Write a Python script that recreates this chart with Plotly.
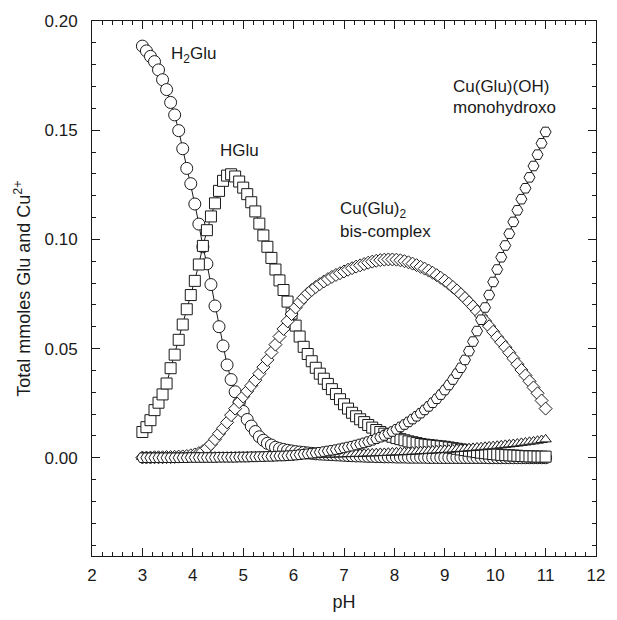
import plotly.graph_objects as go

# pH grid (x values)
ph = [3.00, 3.08, 3.16, 3.24, 3.32, 3.40, 3.48, 3.56, 3.64, 3.72,
      3.80, 3.88, 3.96, 4.04, 4.12, 4.20, 4.28, 4.36, 4.44, 4.52,
      4.60, 4.68, 4.76, 4.84, 4.92, 5.00, 5.08, 5.16, 5.24, 5.32,
      5.40, 5.48, 5.56, 5.64, 5.72, 5.80, 5.88, 5.96, 6.04, 6.12,
      6.20, 6.28, 6.36, 6.44, 6.52, 6.60, 6.68, 6.76, 6.84, 6.92,
      7.00, 7.08, 7.16, 7.24, 7.32, 7.40, 7.48, 7.56, 7.64, 7.72,
      7.80, 7.88, 7.96, 8.04, 8.12, 8.20, 8.28, 8.36, 8.44, 8.52,
      8.60, 8.68, 8.76, 8.84, 8.92, 9.00, 9.08, 9.16, 9.24, 9.32,
      9.40, 9.48, 9.56, 9.64, 9.72, 9.80, 9.88, 9.96, 10.04, 10.12,
      10.20, 10.28, 10.36, 10.44, 10.52, 10.60, 10.68, 10.76, 10.84, 10.92,
      11.00]

h2glu = [0.1885, 0.1863, 0.1838, 0.1814, 0.1776, 0.1731, 0.1686, 0.1627, 0.1570, 0.1498,
         0.1415, 0.1325, 0.1255, 0.1162, 0.1070, 0.0966, 0.0888, 0.0793, 0.0695, 0.0600,
         0.0512, 0.0425, 0.0358, 0.0302, 0.0252, 0.0212, 0.0175, 0.0145, 0.0120, 0.0096,
         0.0080, 0.0066, 0.0058, 0.0048, 0.0042, 0.0038, 0.0034, 0.0031, 0.0028, 0.0026,
         0.0024, 0.0022, 0.0020, 0.0018, 0.0017, 0.0016, 0.0015, 0.0014, 0.0013, 0.0012,
         0.0011, 0.0010, 0.0009, 0.0008, 0.0008, 0.0007, 0.0006, 0.0006, 0.0005, 0.0005,
         0.0004, 0.0004, 0.0004, 0.0003, 0.0003, 0.0003, 0.0002, 0.0002, 0.0002, 0.0002,
         0.0002, 0.0001, 0.0001, 0.0001, 0.0001, 0.0001, 0.0001, 0.0001, 0.0001, 0.0001,
         0.0001, 0.0001, 0.0001, 0.0001, 0.0001, 0.0001, 0.0000, 0.0000, 0.0000, 0.0000,
         0.0000, 0.0000, 0.0000, 0.0000, 0.0000, 0.0000, 0.0000, 0.0000, 0.0000, 0.0000,
         0.0000]

hglu = [0.0118, 0.0140, 0.0172, 0.0218, 0.0252, 0.0290, 0.0340, 0.0410, 0.0472, 0.0540,
        0.0610, 0.0680, 0.0745, 0.0810, 0.0885, 0.0970, 0.1042, 0.1105, 0.1165, 0.1222,
        0.1268, 0.1292, 0.1298, 0.1288, 0.1265, 0.1237, 0.1207, 0.1170, 0.1128, 0.1072,
        0.1018, 0.0966, 0.0915, 0.0862, 0.0812, 0.0768, 0.0715, 0.0660, 0.0605, 0.0555,
        0.0508, 0.0475, 0.0442, 0.0412, 0.0385, 0.0362, 0.0338, 0.0314, 0.0292, 0.0268,
        0.0245, 0.0225, 0.0206, 0.0190, 0.0176, 0.0163, 0.0150, 0.0138, 0.0127, 0.0118,
        0.0110, 0.0102, 0.0096, 0.0090, 0.0085, 0.0080, 0.0075, 0.0071, 0.0067, 0.0063,
        0.0060, 0.0058, 0.0056, 0.0054, 0.0052, 0.0050, 0.0047, 0.0044, 0.0041, 0.0038,
        0.0035, 0.0032, 0.0029, 0.0026, 0.0023, 0.0021, 0.0019, 0.0017, 0.0015, 0.0013,
        0.0012, 0.0011, 0.0010, 0.0009, 0.0008, 0.0007, 0.0006, 0.0006, 0.0005, 0.0005,
        0.0005]

cu_glu2 = [0.0001, 0.0001, 0.0001, 0.0002, 0.0002, 0.0002, 0.0003, 0.0003, 0.0004, 0.0005,
           0.0006, 0.0008, 0.0011, 0.0015, 0.0021, 0.0030, 0.0043, 0.0062, 0.0085, 0.0110,
           0.0135, 0.0162, 0.0195, 0.0225, 0.0255, 0.0280, 0.0305, 0.0330, 0.0355, 0.0385,
           0.0415, 0.0448, 0.0482, 0.0518, 0.0555, 0.0590, 0.0625, 0.0658, 0.0688, 0.0712,
           0.0733, 0.0752, 0.0768, 0.0782, 0.0795, 0.0807, 0.0818, 0.0828, 0.0837, 0.0845,
           0.0853, 0.0861, 0.0868, 0.0875, 0.0881, 0.0887, 0.0893, 0.0898, 0.0902, 0.0905,
           0.0907, 0.0908, 0.0908, 0.0907, 0.0904, 0.0900, 0.0895, 0.0889, 0.0882, 0.0874,
           0.0866, 0.0857, 0.0847, 0.0836, 0.0824, 0.0811, 0.0797, 0.0782, 0.0766, 0.0749,
           0.0731, 0.0712, 0.0692, 0.0671, 0.0649, 0.0626, 0.0602, 0.0577, 0.0552, 0.0529,
           0.0506, 0.0481, 0.0455, 0.0428, 0.0402, 0.0377, 0.0350, 0.0322, 0.0295, 0.0262,
           0.0225]

triangle_species = [0.0003, 0.0003, 0.0003, 0.0003, 0.0003, 0.0003, 0.0003, 0.0003, 0.0003, 0.0003,
                    0.0003, 0.0003, 0.0004, 0.0004, 0.0004, 0.0004, 0.0004, 0.0005, 0.0005, 0.0005,
                    0.0005, 0.0005, 0.0006, 0.0006, 0.0006, 0.0006, 0.0007, 0.0007, 0.0007, 0.0007,
                    0.0008, 0.0008, 0.0008, 0.0009, 0.0009, 0.0009, 0.0010, 0.0010, 0.0010, 0.0011,
                    0.0011, 0.0012, 0.0012, 0.0013, 0.0013, 0.0014, 0.0014, 0.0015, 0.0015, 0.0016,
                    0.0016, 0.0017, 0.0017, 0.0018, 0.0018, 0.0019, 0.0020, 0.0020, 0.0021, 0.0022,
                    0.0022, 0.0023, 0.0024, 0.0025, 0.0025, 0.0026, 0.0027, 0.0028, 0.0029, 0.0030,
                    0.0031, 0.0032, 0.0033, 0.0034, 0.0035, 0.0036, 0.0037, 0.0038, 0.0040, 0.0041,
                    0.0042, 0.0044, 0.0045, 0.0047, 0.0048, 0.0050, 0.0052, 0.0053, 0.0055, 0.0057,
                    0.0059, 0.0061, 0.0063, 0.0065, 0.0068, 0.0070, 0.0073, 0.0075, 0.0078, 0.0081,
                    0.0084]

cu_glu_oh = [0.0000, 0.0000, 0.0000, 0.0000, 0.0000, 0.0000, 0.0000, 0.0000, 0.0000, 0.0000,
             0.0000, 0.0000, 0.0001, 0.0001, 0.0001, 0.0001, 0.0001, 0.0001, 0.0001, 0.0002,
             0.0002, 0.0002, 0.0002, 0.0002, 0.0003, 0.0003, 0.0003, 0.0004, 0.0004, 0.0005,
             0.0005, 0.0006, 0.0006, 0.0007, 0.0008, 0.0008, 0.0009, 0.0010, 0.0012, 0.0014,
             0.0016, 0.0018, 0.0020, 0.0022, 0.0025, 0.0028, 0.0031, 0.0034, 0.0037, 0.0041,
             0.0045, 0.0049, 0.0053, 0.0058, 0.0063, 0.0068, 0.0074, 0.0080, 0.0087, 0.0094,
             0.0102, 0.0111, 0.0120, 0.0130, 0.0141, 0.0152, 0.0164, 0.0177, 0.0190, 0.0204,
             0.0219, 0.0235, 0.0252, 0.0270, 0.0289, 0.0310, 0.0333, 0.0358, 0.0385, 0.0412,
             0.0448, 0.0488, 0.0532, 0.0580, 0.0632, 0.0688, 0.0745, 0.0805, 0.0862, 0.0918,
             0.0972, 0.1026, 0.1080, 0.1133, 0.1184, 0.1234, 0.1284, 0.1336, 0.1388, 0.1440,
             0.1492]

FONT = "Liberation Sans, Arial, Helvetica, sans-serif"
INK = "#1a1a1a"

series = [
    ("H2Glu", h2glu, "circle", 12),
    ("HGlu", hglu, "square", 11),
    ("Cu(Glu)2", cu_glu2, "diamond", 10),
    ("minor", triangle_species, "triangle-up", 10),
    ("Cu(Glu)(OH)", cu_glu_oh, "hexagon2", 11),
]

fig = go.Figure()
for name, vals, sym, size in series:
    fig.add_trace(go.Scatter(
        x=ph, y=vals, mode="lines+markers", name=name,
        line=dict(color=INK, width=1),
        marker=dict(symbol=sym, size=size, color="white",
                    line=dict(color=INK, width=1)),
        showlegend=False,
    ))

ann_font = dict(family=FONT, size=17, color=INK)
annotations = [
    dict(x=3.52, y=0.1845, text="H<sub>2</sub>Glu"),
    dict(x=4.50, y=0.1407, text="HGlu"),
    dict(x=6.89, y=0.1135, text="Cu(Glu)<sub>2</sub>"),
    dict(x=6.89, y=0.1036, text="bis-complex"),
    dict(x=9.13, y=0.1700, text="Cu(Glu)(OH)"),
    dict(x=9.13, y=0.1606, text="monohydroxo"),
]
for a in annotations:
    fig.add_annotation(xref="x", yref="y", xanchor="left", yanchor="middle",
                       showarrow=False, font=ann_font, **a)

axis_common = dict(
    ticks="inside", ticklen=8, tickwidth=1, tickcolor=INK,
    showline=True, linecolor=INK, linewidth=1, mirror="ticks",
    showgrid=False, zeroline=False,
    tickfont=dict(family=FONT, size=17, color=INK),
)

fig.update_layout(
    width=617, height=620,
    margin=dict(l=92, r=14, t=19, b=60),
    paper_bgcolor="white", plot_bgcolor="white",
    font=dict(family=FONT, size=17, color=INK),
    xaxis=dict(range=[2, 12], tick0=2, dtick=1,
               minor=dict(dtick=0.2, ticks="inside", ticklen=4, tickcolor=INK, showgrid=False),
               title=dict(text="pH", font=dict(family=FONT, size=18, color=INK), standoff=10),
               ticklabelstandoff=4,
               **axis_common),
    yaxis=dict(range=[-0.045, 0.2], tick0=0, dtick=0.05, tickformat=".2f",
               minor=dict(dtick=0.01, ticks="inside", ticklen=4, tickcolor=INK, showgrid=False),
               title=dict(text="Total mmoles Glu and Cu<sup>2+</sup>",
                          font=dict(family=FONT, size=18, color=INK), standoff=9),
               ticklabelstandoff=10,
               **axis_common),
)

fig.write_html("out.html")
